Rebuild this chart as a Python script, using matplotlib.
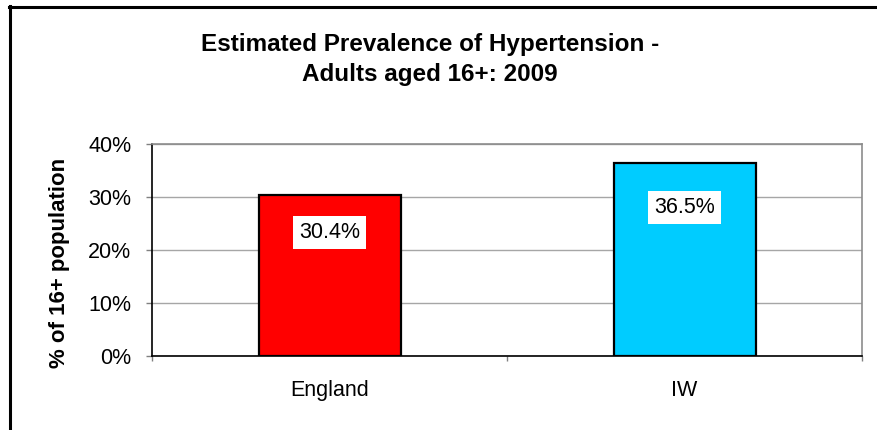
import matplotlib
matplotlib.use("Agg")
import matplotlib.pyplot as plt
from matplotlib.lines import Line2D
from matplotlib.ticker import PercentFormatter, FixedLocator

plt.rcParams['font.family'] = ['Liberation Sans', 'DejaVu Sans']

# Data
categories = ["England", "IW"]
prevalence = [0.304, 0.365]
bar_colors = ["#ff0000", "#00ccff"]
title_lines = ["Estimated Prevalence of Hypertension -", "Adults aged 16+: 2009"]
y_label = "% of 16+ population"

# Label placement below each bar top, in points
label_offsets = [-27, -32.5]

W, H = 877, 430
fig = plt.figure(figsize=(W / 100, H / 100), dpi=100)
fig.patch.set_facecolor("white")

# Chart-area border (left and top edges visible)
fig.add_artist(Line2D([10 / W, 10 / W], [0, 1 - 6 / H], color="black", lw=2.2,
                      transform=fig.transFigure))
fig.add_artist(Line2D([9 / W, 1], [1 - 6.5 / H, 1 - 6.5 / H], color="black", lw=2.2,
                      transform=fig.transFigure))

ax = fig.add_axes([152 / W, 74 / H, 710 / W, 212 / H])
x = list(range(len(categories)))
bars = ax.bar(x, prevalence, width=0.4, color=bar_colors, edgecolor="black",
              linewidth=1.6, zorder=3)

ax.set_xlim(-0.5, len(categories) - 0.5)
ax.set_ylim(0, 0.4)
ax.set_yticks([0, 0.1, 0.2, 0.3, 0.4])
ax.yaxis.set_major_formatter(PercentFormatter(1.0, decimals=0))
ax.grid(axis="y", color="#a6a6a6", lw=1.0, zorder=0)

ax.set_xticks(x)
ax.set_xticklabels(categories, fontsize=15.5)
ax.xaxis.set_minor_locator(FixedLocator([-0.5, 0.5, 1.5]))
ax.tick_params(axis="x", which="major", length=0, pad=17)
ax.tick_params(axis="x", which="minor", length=3.8, color="#808080", width=1)
ax.tick_params(axis="y", length=4.3, color="#808080", width=1, labelsize=15.5, pad=10.5)

for side in ["top", "right"]:
    ax.spines[side].set_color("#8c8c8c")
    ax.spines[side].set_linewidth(1.2)
for side in ["left", "bottom"]:
    ax.spines[side].set_color("black")
    ax.spines[side].set_linewidth(1.2)

ax.set_ylabel(y_label, fontsize=16, fontweight="bold")
ax.yaxis.set_label_coords(-0.116, 0.44)

for b, v, off in zip(bars, prevalence, label_offsets):
    ax.annotate(f"{v * 100:.1f}%", (b.get_x() + b.get_width() / 2, v),
                xytext=(0, off), textcoords="offset points",
                ha="center", va="center", fontsize=15.5, zorder=4,
                bbox=dict(boxstyle="square,pad=0.27", fc="white", ec="none"))

fig.text(430 / W, 1 - 44 / H, title_lines[0], ha="center", va="center",
         fontsize=17.5, fontweight="bold")
fig.text(430 / W, 1 - 74 / H, title_lines[1], ha="center", va="center",
         fontsize=17.5, fontweight="bold")

fig.savefig("out.png", dpi=100)
